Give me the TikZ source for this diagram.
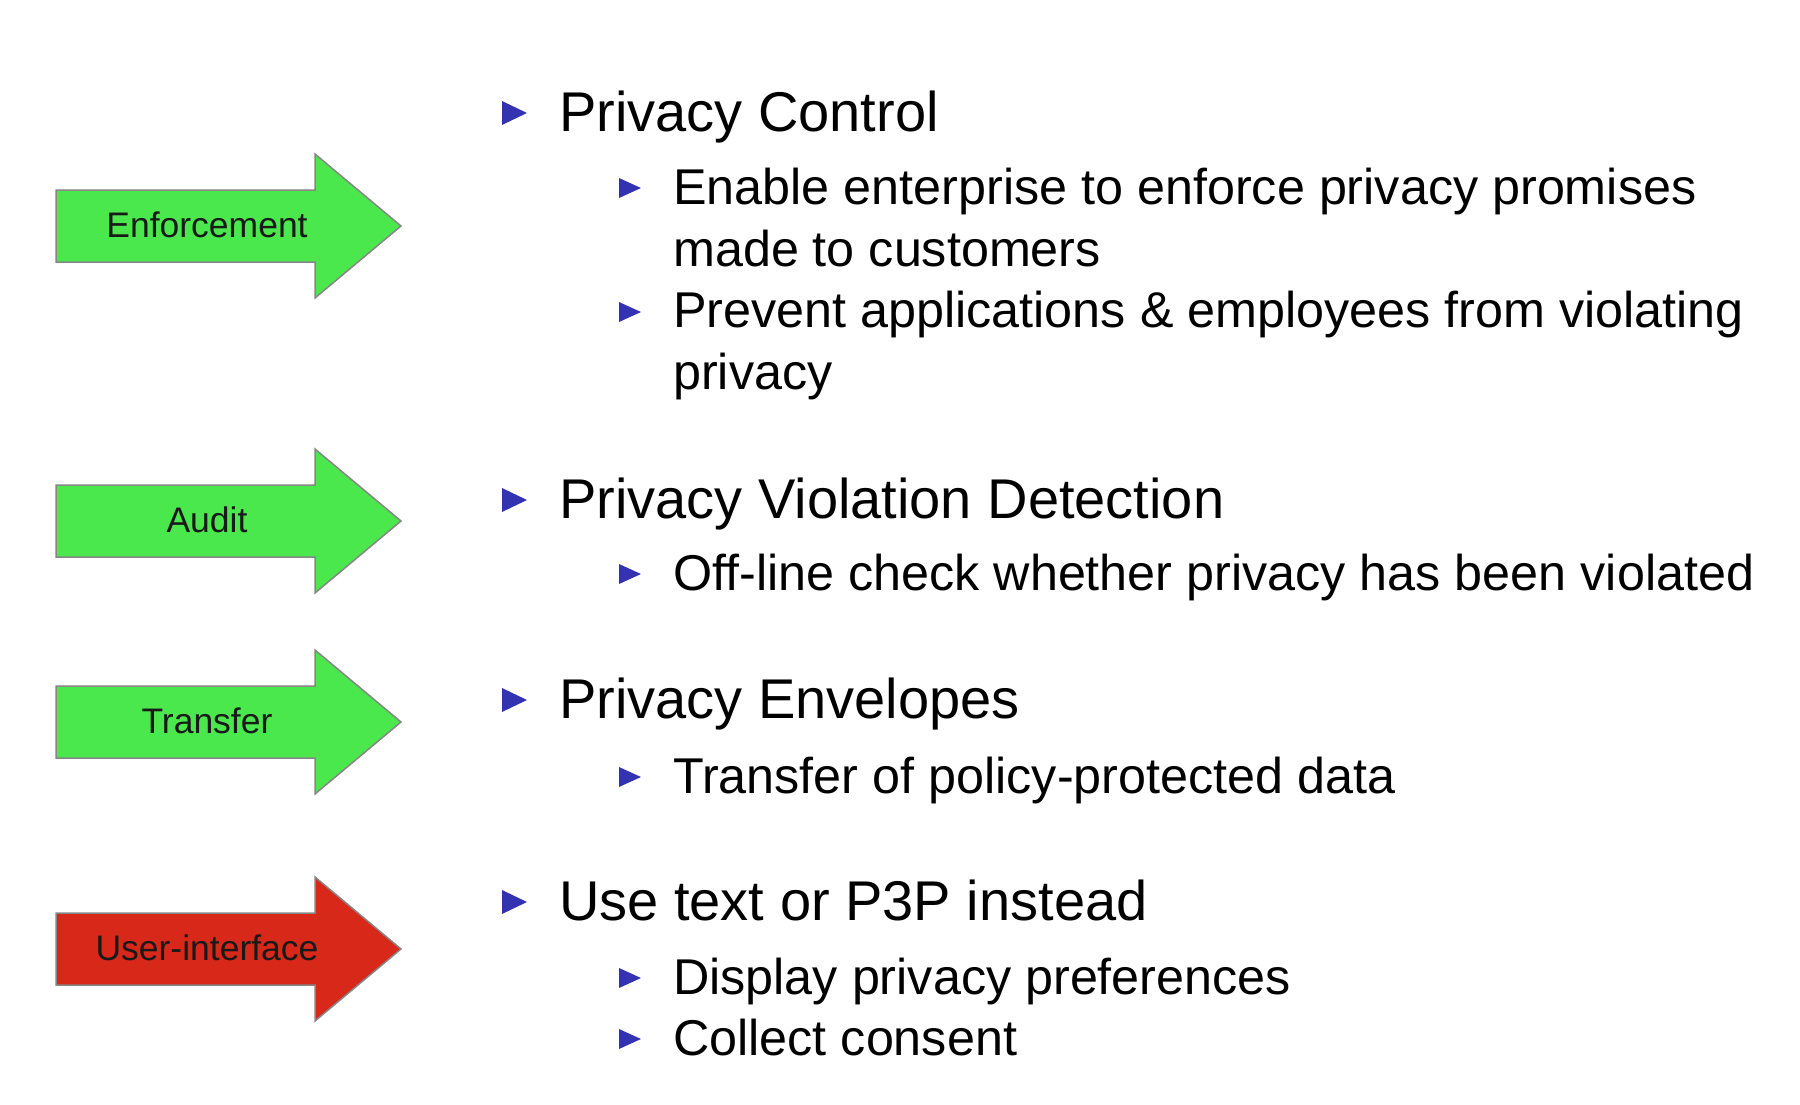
\documentclass[tikz,border=0pt]{standalone}
\usepackage{fontspec}
\setmainfont{Liberation Sans}
\definecolor{arrowgreen}{HTML}{4AE84C}
\definecolor{arrowred}{HTML}{D8281A}
\definecolor{bulletblue}{HTML}{3333B2}
\tikzset{
  arrowbox/.style={draw=gray!95,line width=1.5pt,line join=miter},
  tag/.style={anchor=base,inner sep=0pt,text=black!90,font=\fontsize{35.5}{40}\selectfont},
  head/.style={anchor=base west,inner sep=0pt,align=left,font=\fontsize{56}{62}\selectfont},
  item/.style={anchor=base west,inner sep=0pt,align=left,font=\fontsize{50.3}{62}\selectfont}
}
\begin{document}
\begin{tikzpicture}[x=1pt,y=-1pt]
    \useasboundingbox (0,0) rectangle (1800,1104);
    % arrows on the left
    \foreach \c/\txt/\col [count=\i] in {226/Enforcement/arrowgreen,521/Audit/arrowgreen,722/Transfer/arrowgreen,949/User-interface/arrowred}{
      \draw[arrowbox,fill=\col] (56,\c-36) -- (315,\c-36) -- (315,\c-72) -- (401,\c) -- (315,\c+72) -- (315,\c+36) -- (56,\c+36) -- cycle;
      \node[tag] (arrow\i) at (207,\c+11) {\txt};
    }
    % bullets
    \foreach \y in {113,500,700,902}
      \fill[bulletblue] (502,\y-12) -- (527,\y) -- (502,\y+12) -- cycle;
    \foreach \y in {188,312,574,777,978,1039}
      \fill[bulletblue] (619,\y-10) -- (641,\y) -- (619,\y+10) -- cycle;
    % text (two-line items sit on their last baseline)
    \node[head] (pc) at (559,131) {Privacy Control};
    \node[item] (pcA) at (673,266) {Enable enterprise to enforce privacy promises\\made to customers};
    \node[item] (pcB) at (673,389) {Prevent applications \& employees from violating\\privacy};
    \node[head] (pvd) at (559,518) {Privacy Violation Detection};
    \node[item] (pvdA) at (673,590) {Off-line check whether privacy has been violated};
    \node[head] (pe) at (559,718) {Privacy Envelopes};
    \node[item] (peA) at (673,793) {Transfer of policy-protected data};
    \node[head] (ui) at (559,920) {Use text or P3P instead};
    \node[item] (uiA) at (673,994) {Display privacy preferences};
    \node[item] (uiB) at (673,1055) {Collect consent};
\end{tikzpicture}
\end{document}
